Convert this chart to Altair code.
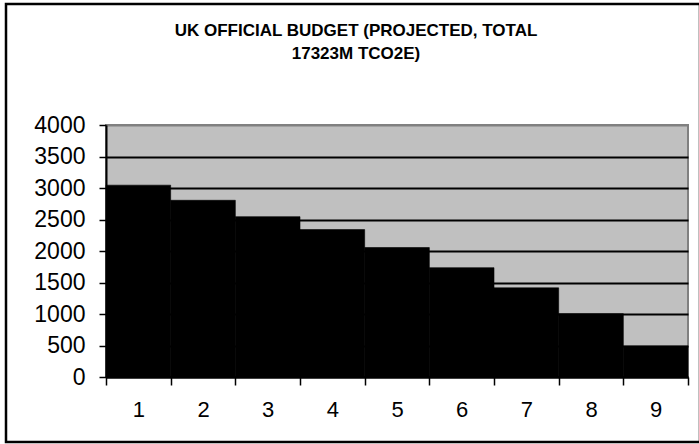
import altair as alt
import pandas as pd

periods = ["1", "2", "3", "4", "5", "6", "7", "8", "9"]
budget = [3045, 2805, 2545, 2340, 2055, 1735, 1415, 1005, 490]
y_ticks = [0, 500, 1000, 1500, 2000, 2500, 3000, 3500, 4000]
title_lines = ["UK OFFICIAL BUDGET (PROJECTED, TOTAL", "17323M TCO2E)"]

FONT = "Liberation Sans"

df = pd.DataFrame({"period": periods, "budget": budget})

bars = alt.Chart(df).mark_bar(color="black", stroke="black", strokeWidth=0.6).encode(
    x=alt.X(
        "period:N",
        sort=periods,
        scale=alt.Scale(paddingInner=0, paddingOuter=0),
        axis=alt.Axis(
            title=None,
            labelAngle=0,
            tickBand="extent",
            tickSize=8,
            tickColor="black",
            tickWidth=1.5,
            domainColor="black",
            domainWidth=2,
            labelFont=FONT,
            labelFontSize=22,
            labelColor="black",
            labelPadding=14,
            grid=False,
        ),
    ),
    y=alt.Y(
        "budget:Q",
        scale=alt.Scale(domain=[0, 4000], nice=False),
        axis=alt.Axis(
            title=None,
            values=y_ticks,
            format="d",
            tickSize=7,
            tickColor="black",
            tickWidth=1.5,
            domainColor="black",
            domainWidth=2,
            labelFont=FONT,
            labelFontSize=23,
            labelColor="black",
            labelPadding=14,
            grid=True,
            gridColor={"condition": {"test": "datum.value == 4000", "value": "#808080"}, "value": "black"},
            gridWidth=2,
        ),
    ),
)

frame = alt.Chart(pd.DataFrame({"k": [0]})).mark_rect(
    filled=False, stroke="black", strokeWidth=2.5
).encode(
    x=alt.value(-100), x2=alt.value(594), y=alt.value(-121), y2=alt.value(317)
)

chart = alt.layer(bars, frame).properties(
    width=582,
    height=252,
    autosize=alt.AutoSizeParams(type="none"),
    padding={"left": 106, "top": 125, "right": 11, "bottom": 67},
    background="white",
    title=alt.TitleParams(
        text=title_lines,
        font=FONT,
        fontSize=17,
        fontWeight="bold",
        color="black",
        anchor="middle",
        dx=-41,
        offset=-60,
        lineHeight=23,
    ),
).configure_view(fill="#C0C0C0", stroke="#808080", strokeWidth=2)

chart.save("out.html", embed_options={"renderer": "svg", "actions": False})
